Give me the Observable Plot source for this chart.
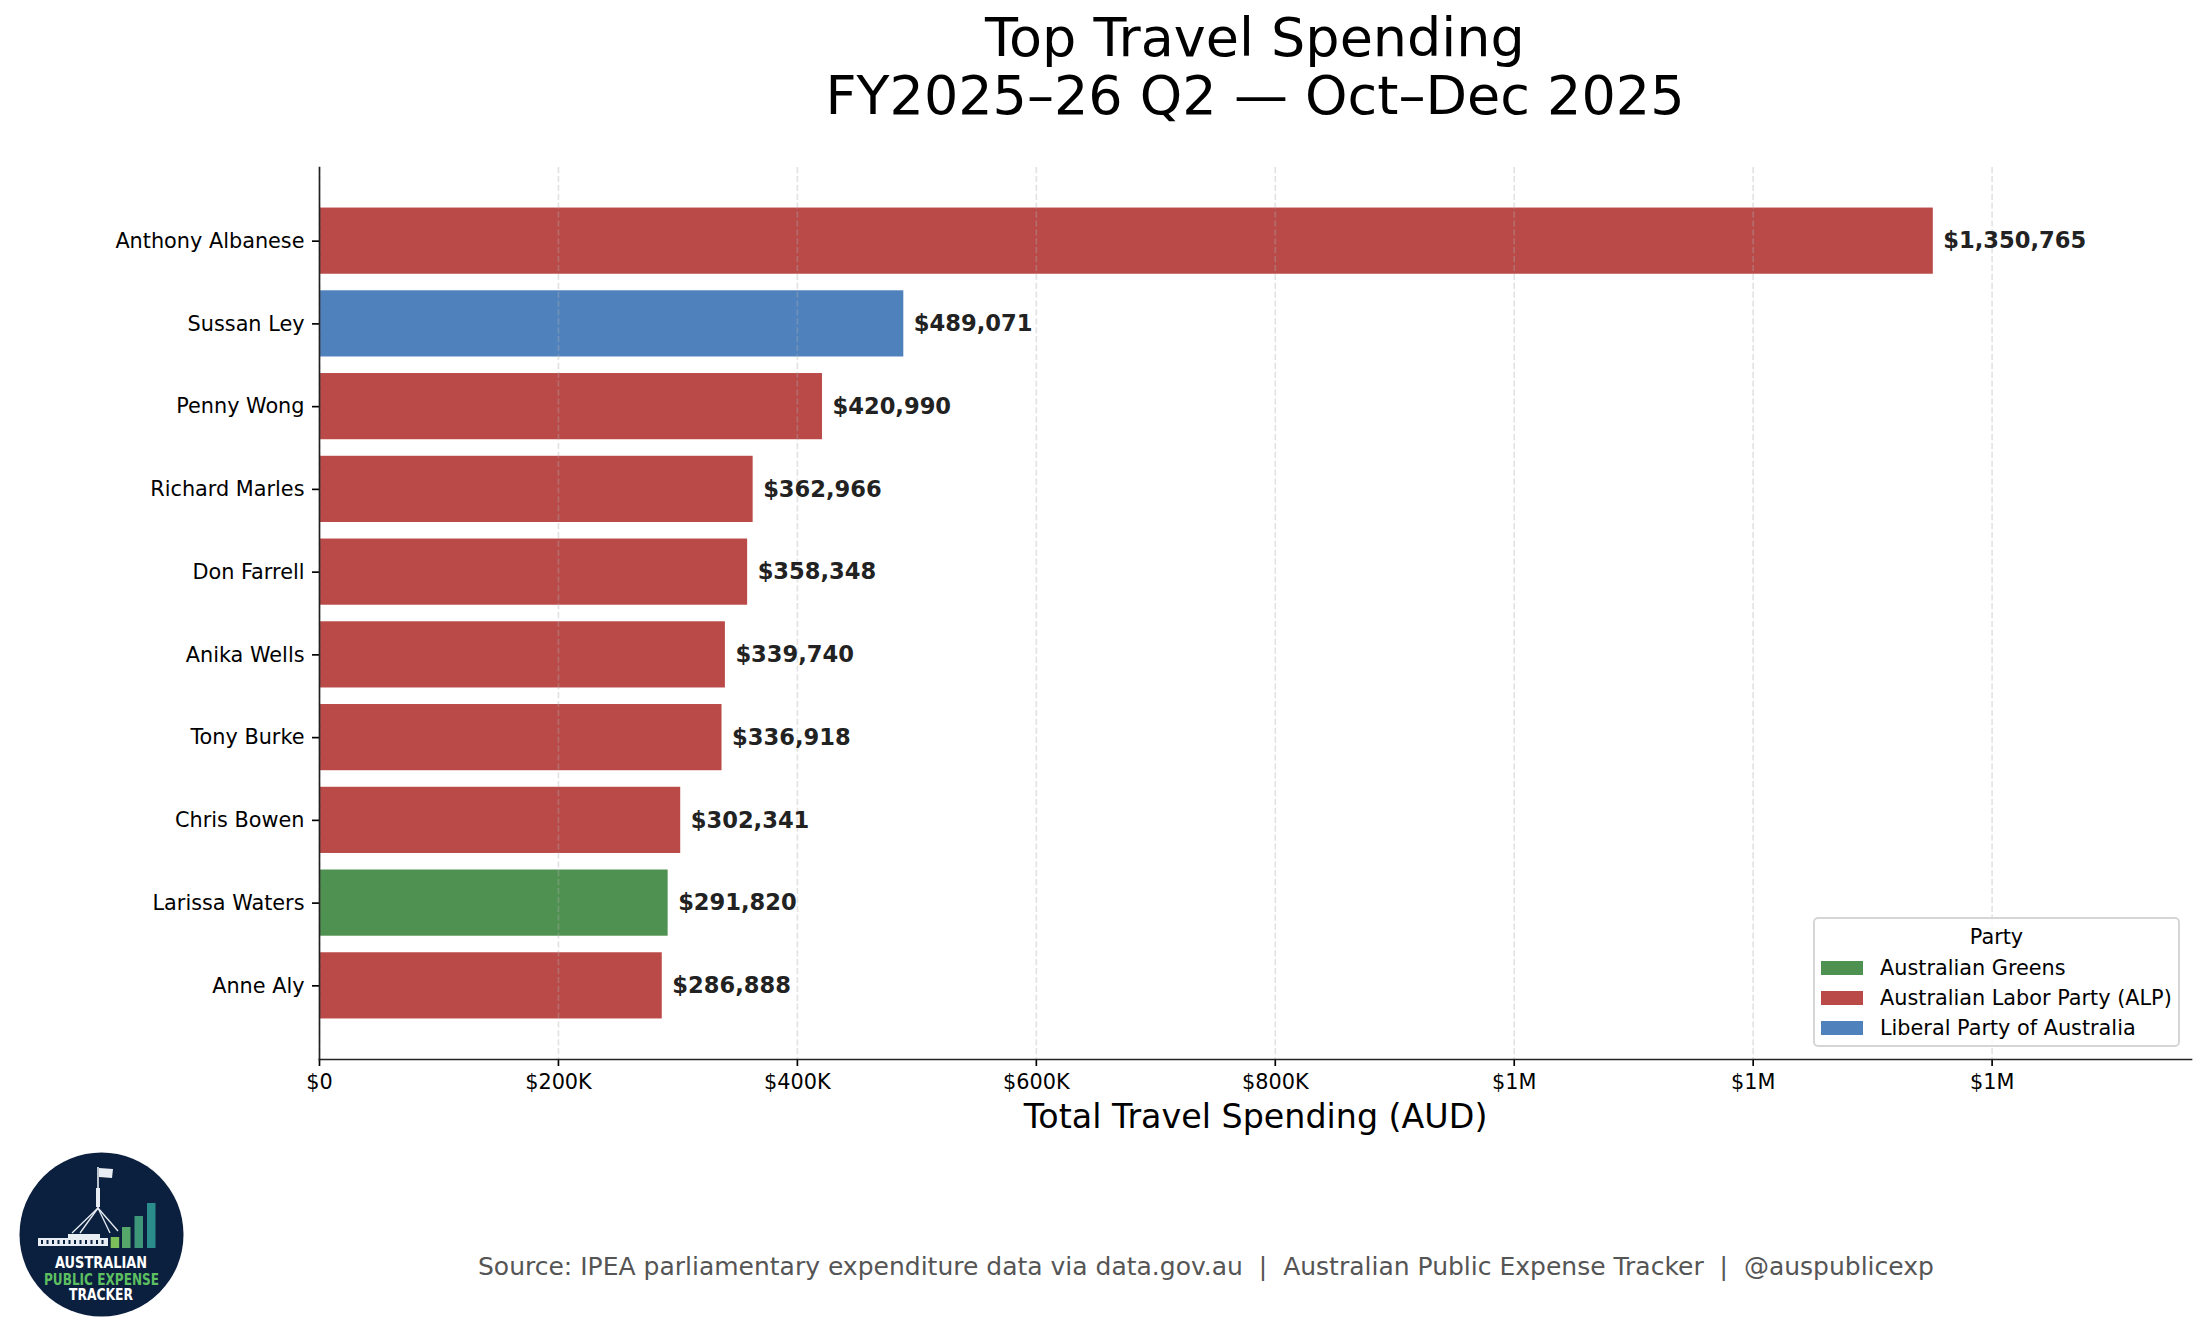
<!DOCTYPE html>
<html>
<head>
<meta charset="utf-8">
<script src="https://cdn.jsdelivr.net/npm/d3@7"></script>
<script src="https://cdn.jsdelivr.net/npm/@observablehq/plot@0.6"></script>
<style>
  html, body { margin: 0; padding: 0; background: #fff; }
  #wrap { position: relative; width: 2205px; height: 1337px; font-family: "DejaVu Sans", sans-serif; overflow: hidden; }
  #title { position: absolute; left: 319px; width: 1872px; top: 9px; text-align: center; font-size: 54px; line-height: 58px; color: #000; }
  #chart { position: absolute; left: 0; top: 130px; }
  #legend { position: absolute; left: 1813px; top: 917px; width: 367px; height: 130px; box-sizing: border-box;
            background: rgba(255,255,255,0.8); border: 2px solid rgba(204,204,204,0.8); border-radius: 5px; }
  #legend .t { position: absolute; font-size: 20.8px; line-height: 20.8px; white-space: pre; color: #000; }
  #legend .p { position: absolute; width: 41.6px; height: 14.6px; }
  #footer { position: absolute; left: 0; top: 0; }
</style>
</head>
<body>
<div id="wrap">
  <div id="title">Top Travel Spending<br>FY2025–26 Q2 — Oct–Dec 2025</div>
  <div id="chart"></div>
  <div id="legend"></div>
  <svg id="footer" width="2205" height="1337"></svg>
</div>
<script>
// ---- data ----
const names = ["Anthony Albanese", "Sussan Ley", "Penny Wong", "Richard Marles", "Don Farrell",
               "Anika Wells", "Tony Burke", "Chris Bowen", "Larissa Waters", "Anne Aly"];
const values = [1350765, 489071, 420990, 362966, 358348, 339740, 336918, 302341, 291820, 286888];
const parties = ["Australian Labor Party (ALP)", "Liberal Party of Australia", "Australian Labor Party (ALP)",
                 "Australian Labor Party (ALP)", "Australian Labor Party (ALP)", "Australian Labor Party (ALP)",
                 "Australian Labor Party (ALP)", "Australian Labor Party (ALP)", "Australian Greens",
                 "Australian Labor Party (ALP)"];
const partyNames = ["Australian Greens", "Australian Labor Party (ALP)", "Liberal Party of Australia"];
const partyColors = ["#4f9150", "#b94a48", "#4f81bd"];
const xTicks = [0, 200000, 400000, 600000, 800000, 1000000, 1200000, 1400000];
const xTickLabels = ["$0", "$200K", "$400K", "$600K", "$800K", "$1M", "$1M", "$1M"];
const xLabel = "Total Travel Spending (AUD)";
const sourceText = "Source: IPEA parliamentary expenditure data via data.gov.au  |  Australian Public Expense Tracker  |  @auspublicexp";

const rows = names.map((n, i) => ({name: n, value: values[i], party: parties[i]}));
const fmt = d3.format(",");
const xMax = d3.max(values) * 1.16;

const plot = Plot.plot({
  width: 2205,
  height: 1010,
  marginLeft: 319,
  marginRight: 14,
  marginTop: 37,
  marginBottom: 81,
  style: {fontFamily: "DejaVu Sans", fontSize: "20.8px", color: "#000", background: "transparent", overflow: "visible"},
  x: {domain: [0, xMax], ticks: xTicks, tickFormat: (d) => xTickLabels[xTicks.indexOf(d)], label: null},
  y: {domain: names, paddingInner: 0.2, paddingOuter: 0.49, round: false, label: null},
  color: {domain: partyNames, range: partyColors},
  marks: [
    Plot.barX(rows, {x: "value", y: "name", fill: "party"}),
    Plot.gridX(xTicks, {stroke: "#b0b0b0", strokeOpacity: 0.35, strokeWidth: 1.67, strokeDasharray: "6.2,2.7"}),
    Plot.text(rows, {x: "value", y: "name", text: (d) => "$" + fmt(d.value), dx: 10, textAnchor: "start",
                     fontSize: 22.6, fontWeight: "bold", fill: "#222"}),
    Plot.axisY({tickSize: 7, tickPadding: 8, fontSize: 20.8, stroke: "#000", strokeWidth: 1.67, label: null}),
    Plot.axisX({ticks: xTicks, tickSize: 7, tickPadding: 8, fontSize: 20.8, stroke: "#000", strokeWidth: 1.67,
                tickFormat: (d) => xTickLabels[xTicks.indexOf(d)], label: null}),
    Plot.frame({anchor: "left", stroke: "#222", strokeWidth: 1.67}),
    Plot.frame({anchor: "bottom", stroke: "#222", strokeWidth: 1.67}),
    Plot.text([xLabel], {frameAnchor: "bottom", lineAnchor: "bottom", dy: 68, fontSize: 33.3, fill: "#000"})
  ]
});
document.getElementById("chart").appendChild(plot);

// ---- legend ----
const legend = document.getElementById("legend");
const lt = document.createElement("div");
lt.className = "t";
lt.textContent = "Party";
lt.style.left = "0px"; lt.style.width = "363px"; lt.style.textAlign = "center";
lt.style.top = (945 - 17.6 - 919) + "px";
legend.appendChild(lt);
partyNames.forEach((p, i) => {
  const cy = 968 + 30 * i - 919;
  const sw = document.createElement("div");
  sw.className = "p";
  sw.style.background = partyColors[i];
  sw.style.left = (1821 - 1815) + "px";
  sw.style.top = (cy - 7.3) + "px";
  legend.appendChild(sw);
  const tx = document.createElement("div");
  tx.className = "t";
  tx.textContent = p;
  tx.style.left = (1880 - 1815) + "px";
  tx.style.top = (cy + 7.6 - 17.6) + "px";
  legend.appendChild(tx);
});

// ---- footer: source caption + logo ----
const svg = d3.select("#footer");
svg.append("text").attr("x", 478).attr("y", 1275).attr("font-size", 25).attr("fill", "#555")
   .attr("font-family", "DejaVu Sans").attr("xml:space", "preserve").style("white-space", "pre").text(sourceText);

const logo = svg.append("g");
logo.append("circle").attr("cx", 101.5).attr("cy", 1234.5).attr("r", 82).attr("fill", "#0b1f3e");
// flag and pole
logo.append("path").attr("d", "M99,1168 L113,1169 L112,1178 L99,1177 Z").attr("fill", "#e8edf3");
logo.append("line").attr("x1", 98).attr("y1", 1167).attr("x2", 98).attr("y2", 1210).attr("stroke", "#e8edf3").attr("stroke-width", 1.6);
logo.append("rect").attr("x", 96).attr("y", 1188).attr("width", 4).attr("height", 19).attr("fill", "#e8edf3");
[[72, 1233], [80, 1233], [110, 1233], [118, 1231]].forEach(([x, y]) =>
  logo.append("line").attr("x1", 98).attr("y1", 1208).attr("x2", x).attr("y2", y).attr("stroke", "#e8edf3").attr("stroke-width", 1.3));
// building
logo.append("rect").attr("x", 38).attr("y", 1238).attr("width", 70).attr("height", 8).attr("fill", "#e8edf3");
logo.append("rect").attr("x", 68).attr("y", 1234).attr("width", 32).attr("height", 12).attr("fill", "#e8edf3");
for (let i = 0; i < 12; i++) {
  logo.append("rect").attr("x", 41 + i * 5.5).attr("y", 1240).attr("width", 2).attr("height", 4).attr("fill", "#0b1f3e");
}
// bars
[[110.7, 1237, "#7cbf5a"], [122, 1227, "#55a86a"], [134.5, 1216, "#3f977a"], [147, 1203, "#2b8c8c"]].forEach(([x, y, c]) =>
  logo.append("rect").attr("x", x).attr("y", y).attr("width", 8.5).attr("height", 1248 - y).attr("fill", c));
// text
logo.append("text").attr("x", 101).attr("y", 1268).attr("text-anchor", "middle").attr("font-family", "DejaVu Sans")
    .attr("font-weight", "bold").attr("font-size", 15).attr("fill", "#fff")
    .attr("textLength", 92).attr("lengthAdjust", "spacingAndGlyphs").text("AUSTRALIAN");
logo.append("text").attr("x", 101.5).attr("y", 1285).attr("text-anchor", "middle").attr("font-family", "DejaVu Sans")
    .attr("font-weight", "bold").attr("font-size", 15).attr("fill", "#5cbf60")
    .attr("textLength", 115).attr("lengthAdjust", "spacingAndGlyphs").text("PUBLIC EXPENSE");
logo.append("text").attr("x", 101).attr("y", 1300).attr("text-anchor", "middle").attr("font-family", "DejaVu Sans")
    .attr("font-weight", "bold").attr("font-size", 15).attr("fill", "#fff")
    .attr("textLength", 64).attr("lengthAdjust", "spacingAndGlyphs").text("TRACKER");
</script>
</body>
</html>
